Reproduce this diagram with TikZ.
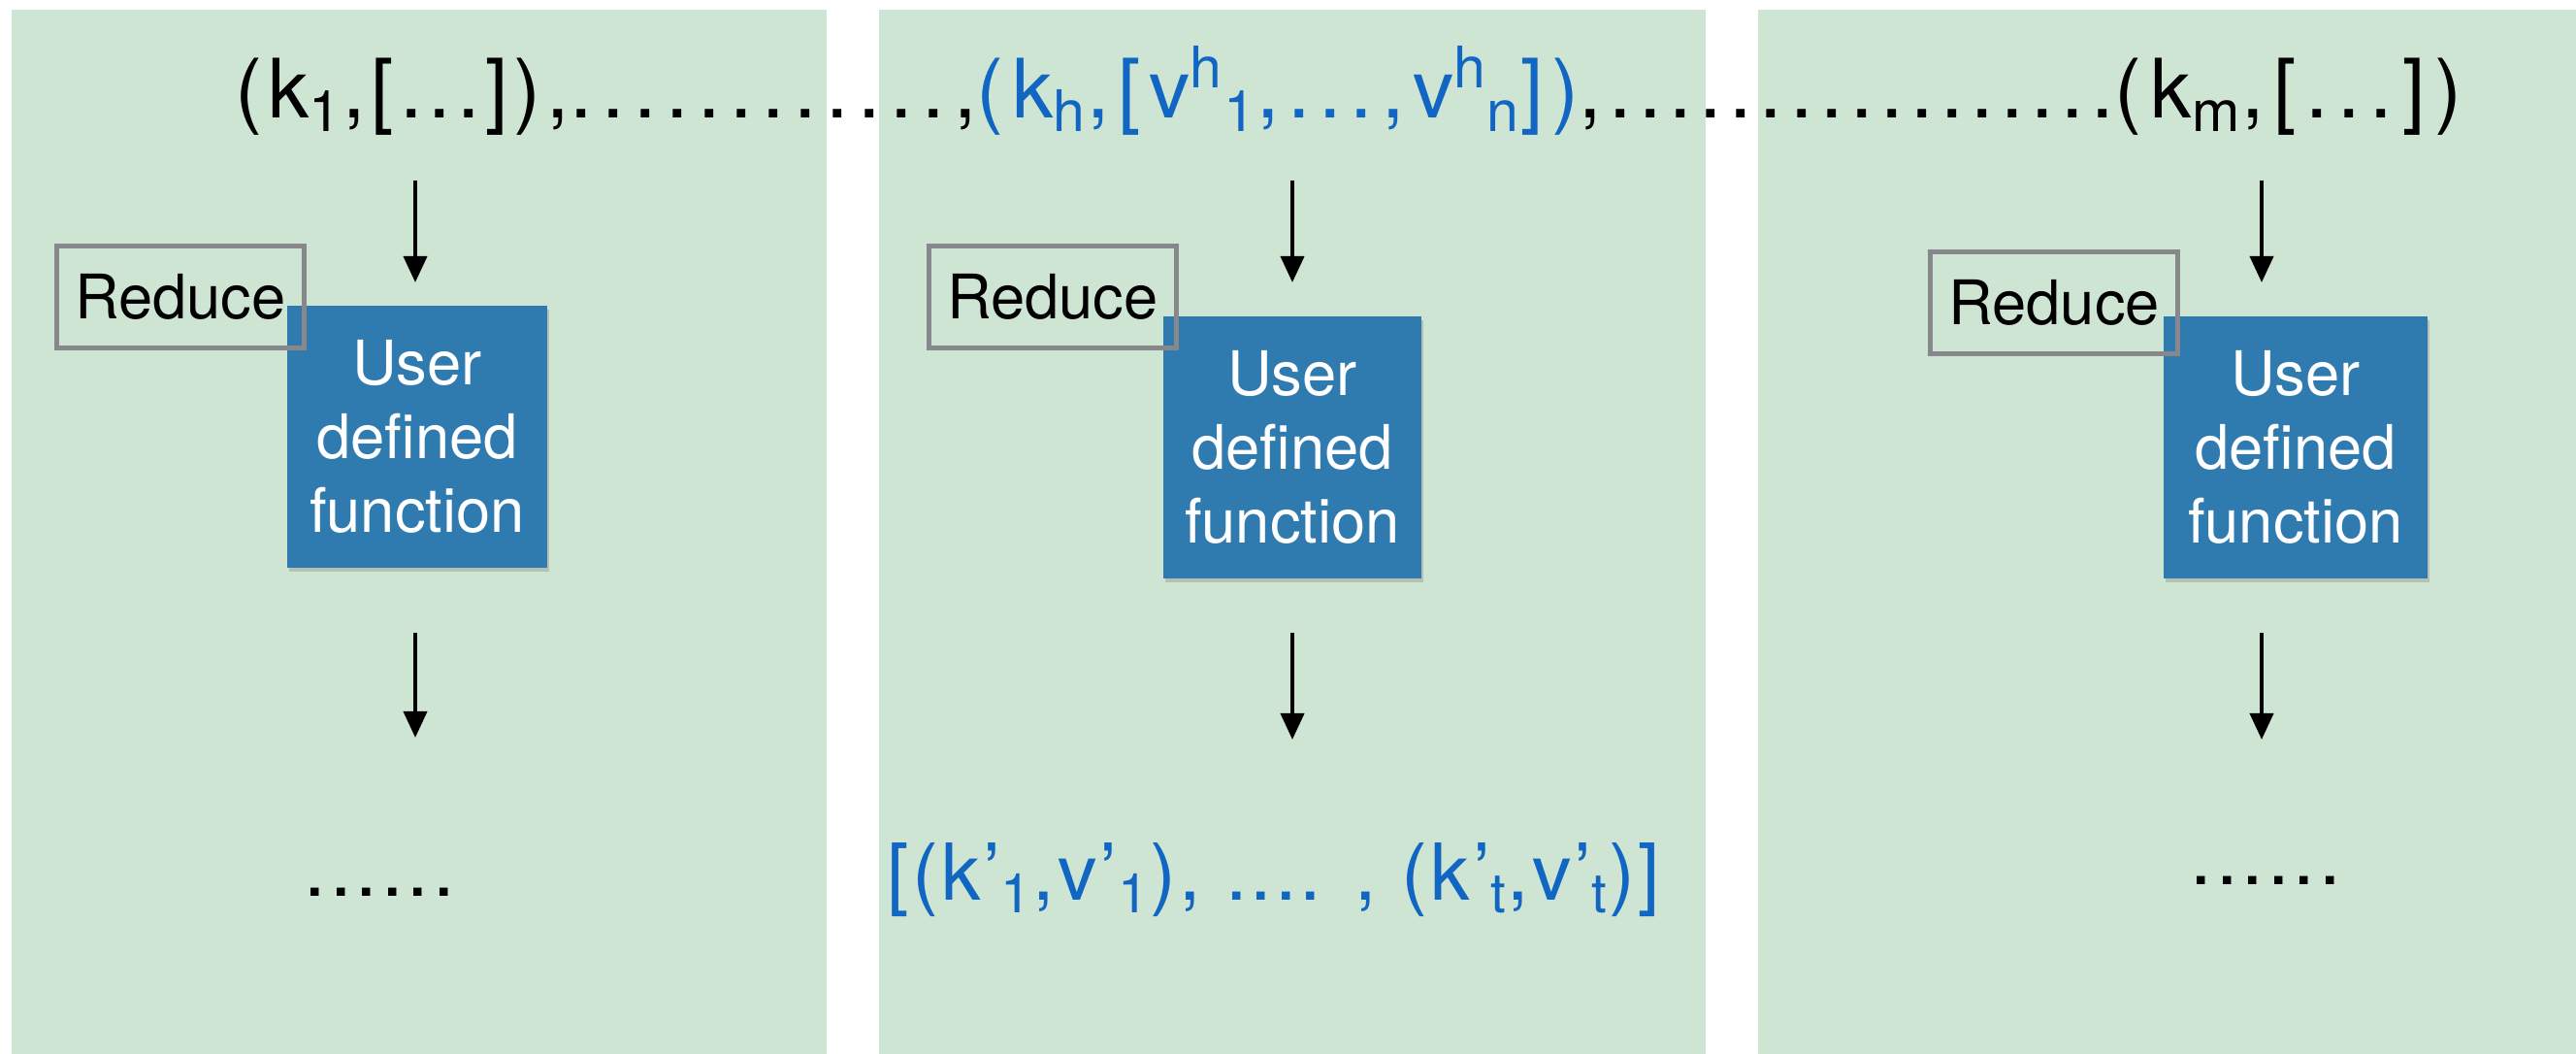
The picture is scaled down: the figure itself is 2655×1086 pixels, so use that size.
\documentclass[tikz,border=0pt]{standalone}
\usepackage{fontspec}
\setmainfont{TeX Gyre Heros}
\usetikzlibrary{arrows.meta,shadows}
\definecolor{panelgreen}{RGB}{207,229,211}
\definecolor{boxblue}{RGB}{47,123,176}
\definecolor{txtblue}{RGB}{16,102,194}
\definecolor{framegray}{RGB}{134,136,140}
\newcommand{\spc}[2]{{\addfontfeatures{LetterSpace=#1}#2}}
\begin{document}
\begin{tikzpicture}[x=0.01cm,y=-0.01cm,
  panel/.style={fill=panelgreen},
  udfbox/.style={fill=boxblue, text=white, align=center, inner sep=0pt,
    minimum width=2.68cm, minimum height=2.69cm,
    font=\fontsize{18}{21.6}\selectfont,
    drop shadow={opacity=0.35, shadow xshift=0.02cm, shadow yshift=-0.04cm}},
  redbox/.style={draw=framegray, line width=1.4pt, inner sep=0pt,
    minimum width=2.54cm, minimum height=1.05cm,
    font=\fontsize{18}{21}\selectfont},
  arr/.style={line width=1.1pt, -{Triangle[length=0.27cm,width=0.24cm]}},
  toptext/.style={font=\fontsize{24}{28}\selectfont, inner sep=0pt},
  bottext/.style={font=\fontsize{23}{27}\selectfont\addfontfeatures{LetterSpace=5}, inner sep=0pt},
  restext/.style={font=\fontsize{23}{27}\selectfont\addfontfeatures{LetterSpace=3.8}, inner sep=0pt, text=txtblue}
]
\useasboundingbox (0,0) rectangle (2655,1086);
\fill[white] (0,0) rectangle (2655,1086);
% panels
\fill[panel] (12,10) rectangle (852,1086);
\fill[panel] (906,10) rectangle (1758,1086);
\fill[panel] (1812,10) rectangle (2655,1086);

% user defined function boxes
\node[udfbox] (udf1) at (430,450) {User\\defined\\function};
\node[udfbox, minimum width=2.66cm] (udf2) at (1332,461) {User\\defined\\function};
\node[udfbox, minimum width=2.71cm] (udf3) at (2366,461) {User\\defined\\function};

% reduce boxes
\node[redbox] (red1) at (186,306) {Reduce};
\node[redbox] (red2) at (1085,306) {Reduce};
\node[redbox] (red3) at (2117,312) {Reduce};

% top line
\node[toptext, anchor=base west] (top) at (242,122)
  {\spc{7}{(k\textsubscript{1},[...]),}\spc{11.3}{............,}\textcolor{txtblue}{\spc{10.2}{(k\textsubscript{h},[v\textsuperscript{h}\textsubscript{1},...,v\textsuperscript{h}\textsubscript{n}])}}\spc{9}{,.................}\spc{11.5}{(k\textsubscript{m},[...])}};

% outputs
\node[bottext, anchor=base west] (out1) at (313,923) {......};
\node[restext, anchor=base west] (out2) at (914,927)
  {[(k’\textsubscript{1},v’\textsubscript{1}), .... , (k’\textsubscript{t},v’\textsubscript{t})]};
\node[bottext, anchor=base west] (out3) at (2257,911) {......};

% arrow end points
\coordinate (a1s) at (428,186); \coordinate (a1e) at (428,291);
\coordinate (a2s) at (1332,186); \coordinate (a2e) at (1332,291);
\coordinate (a3s) at (2331,186); \coordinate (a3e) at (2331,291);
\coordinate (b1s) at (428,652); \coordinate (b1e) at (428,760);
\coordinate (b2s) at (1332,652); \coordinate (b2e) at (1332,762);
\coordinate (b3s) at (2331,652); \coordinate (b3e) at (2331,762);

\draw[arr] (a1s) -- (a1e);
\draw[arr] (a2s) -- (a2e);
\draw[arr] (a3s) -- (a3e);
\draw[arr] (b1s) -- (b1e);
\draw[arr] (b2s) -- (b2e);
\draw[arr] (b3s) -- (b3e);
\end{tikzpicture}
\end{document}
